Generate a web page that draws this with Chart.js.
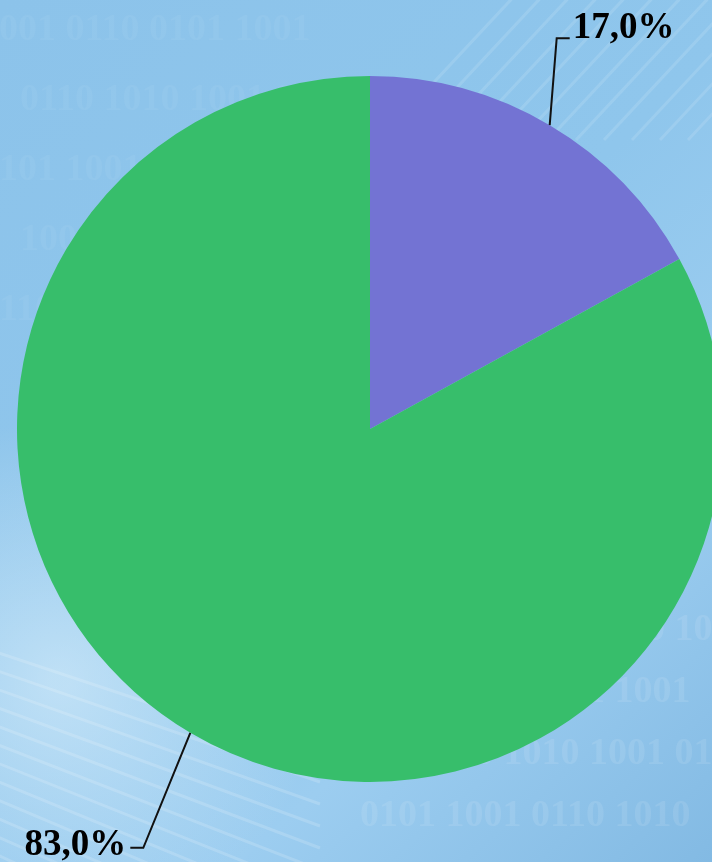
<!DOCTYPE html>
<html>
<head>
<meta charset="utf-8">
<script src="https://cdn.jsdelivr.net/npm/chart.js@4/dist/chart.umd.min.js"></script>
<style>
  html, body { margin: 0; padding: 0; overflow: hidden; width: 712px; height: 862px; }
  #wrap { width: 760px; height: 862px; }
</style>
</head>
<body>
<div id="wrap"><canvas id="myChart"></canvas></div>
<script>
const categories = ['Categoria 1', 'Categoria 2'];
const values = [17.0, 83.0];
const sliceColors = ['#7373d3', '#37be6b'];
const valueLabels = ['17,0%', '83,0%'];

// fundo azul com dígitos binários
const background = {
    id: 'background',
    beforeDraw(chart) {
        const c = chart.ctx;
        const w = chart.width, h = chart.height;
        c.save();
        const g = c.createLinearGradient(0, 0, w, h);
        g.addColorStop(0, '#8cc3ea');
        g.addColorStop(0.45, '#8fc6ec');
        g.addColorStop(0.7, '#9ccdf0');
        g.addColorStop(1, '#80b8e2');
        c.fillStyle = g;
        c.fillRect(0, 0, w, h);

        // faixa clara embaixo à esquerda
        const g2 = c.createRadialGradient(60, 680, 10, 60, 680, 260);
        g2.addColorStop(0, 'rgba(235,248,255,0.5)');
        g2.addColorStop(1, 'rgba(235,248,255,0)');
        c.fillStyle = g2;
        c.fillRect(0, 420, 340, 442);

        // riscos diagonais
        c.strokeStyle = 'rgba(255,255,255,0.16)';
        c.lineWidth = 3;
        for (let i = 0; i < 14; i++) {
            c.beginPath();
            c.moveTo(-40, 640 + i * 18);
            c.lineTo(320, 760 + i * 22);
            c.stroke();
        }
        c.strokeStyle = 'rgba(255,255,255,0.12)';
        for (let i = 0; i < 12; i++) {
            c.beginPath();
            c.moveTo(380 + i * 28, 140);
            c.lineTo(520 + i * 28, -10);
            c.stroke();
        }

        // dígitos
        c.fillStyle = 'rgba(255,255,255,0.1)';
        c.font = 'bold 38px "Liberation Serif"';
        const rows = ['0101 1001 0110 1010', '1001 0110 0101 1001', '0110 1010 1001 0101'];
        for (let i = 0; i < 8; i++) {
            c.fillText(rows[i % 3], 420 - (i % 2) * 60, 640 + i * 62);
        }
        c.fillStyle = 'rgba(255,255,255,0.05)';
        for (let i = 0; i < 5; i++) {
            c.fillText(rows[(i + 1) % 3], -20 + (i % 2) * 40, 40 + i * 70);
        }
        c.restore();
    }
};

// rótulos com linha de chamada
const leaderLabels = {
    id: 'leaderLabels',
    afterDatasetsDraw(chart) {
        const c = chart.ctx;
        const meta = chart.getDatasetMeta(0);
        const opts = chart.options.plugins.leaderLabels;
        c.save();
        c.strokeStyle = '#111';
        c.lineWidth = 2;
        c.fillStyle = '#000';
        c.font = 'bold 37px "Liberation Serif"';
        meta.data.forEach((arc, i) => {
            const p = arc.getProps(['x', 'y', 'startAngle', 'endAngle', 'outerRadius'], true);
            const mid = (p.startAngle + p.endAngle) / 2;
            const x0 = p.x + Math.cos(mid) * p.outerRadius;
            const y0 = p.y + Math.sin(mid) * p.outerRadius;
            const o = opts.offsets[i];
            const x1 = x0 + o.dx, y1 = y0 + o.dy;
            const x2 = x1 + o.hx;
            c.beginPath();
            c.moveTo(x0, y0);
            c.lineTo(x1, y1);
            c.lineTo(x2, y1);
            c.stroke();
            c.textAlign = o.hx > 0 ? 'left' : 'right';
            c.textBaseline = 'alphabetic';
            c.fillText(valueLabels[i], x2 + (o.hx > 0 ? 3 : -4), y1 + o.ty);
        });
        c.restore();
    }
};

const ctx = document.getElementById('myChart').getContext('2d');
const myChart = new Chart(ctx, {
    type: 'pie',
    data: {
        labels: categories,
        datasets: [{
            data: values,
            backgroundColor: sliceColors,
            borderWidth: 0
        }]
    },
    options: {
        responsive: true,
        maintainAspectRatio: false,
        animation: false,
        layout: { padding: { left: 17, right: 37, top: 76, bottom: 80 } },
        plugins: {
            legend: { display: false },
            tooltip: { enabled: false },
            leaderLabels: {
                offsets: [
                    { dx: 7, dy: -87, hx: 13, ty: 0 },
                    { dx: -47, dy: 115, hx: -13, ty: 7 }
                ]
            }
        }
    },
    plugins: [background, leaderLabels]
});
</script>
</body>
</html>
